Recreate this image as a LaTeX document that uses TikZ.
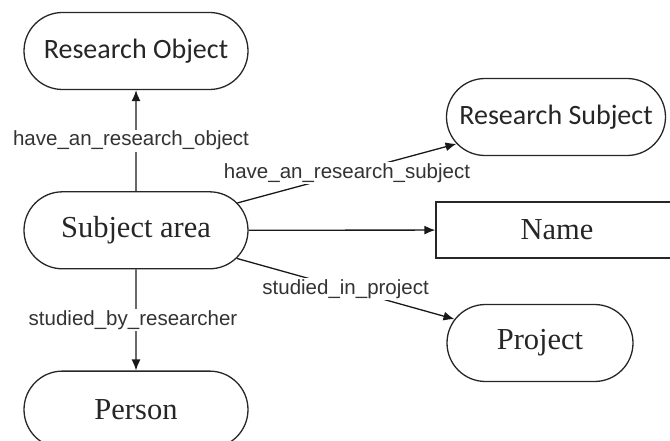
\documentclass[tikz,border=0pt]{standalone}
\usepackage{fontspec}
\setmainfont{Liberation Serif}
\newfontfamily\calibfont{Carlito}
\newfontfamily\arialfont{Liberation Sans}
\usetikzlibrary{arrows.meta,positioning,shapes.misc}

\begin{document}
\begin{tikzpicture}[
  x=1pt, y=-1pt, >={Latex[length=11pt,width=9pt]},
  term/.style={draw=black!85, rounded rectangle, line width=1.3pt,
    minimum width=228pt, minimum height=77pt, inner sep=2pt, text=black!85},
  attr/.style={draw=black!85, rectangle, line width=1.3pt,
    minimum width=242pt, minimum height=56pt, text=black!85},
  sans/.style={font=\calibfont\fontsize{28}{32}\selectfont},
  serif/.style={font=\fontsize{30.5}{34}\selectfont},
  rel/.style={fill=white, inner sep=1.5pt, text=black!80,
    font=\arialfont\fontsize{20.5}{24}\selectfont},
  link/.style={->, line width=1.3pt, draw=black!90}]
  \useasboundingbox (0,0) rectangle (670,441);
  % left column
  \node[term,sans] (obj) at (136,51) {Research Object};
  \node[term,serif,below=101pt of obj] (area) {Subject area};
  \node[term,serif,below=101pt of area] (person) {Person};
  % right column
  \node[term,sans,minimum width=223pt] (subj) at (556,117) {Research Subject};
  \node[attr,serif] (name) at (557,230) {Name};
  \node[term,serif,minimum width=190pt] (proj) at (540,343) {Project};
  % relations
  \draw[link] (area) -- node[rel,xshift=-5pt] {have\_an\_research\_object} (obj);
  \draw[link] (area) -- node[rel] {have\_an\_research\_subject} (subj);
  \draw[link] (area) -- (name);
  \draw[link] (area) -- node[rel] {studied\_in\_project} (proj);
  \draw[link] (area) -- node[rel,xshift=-3pt] {studied\_by\_researcher} (person);
\end{tikzpicture}
\end{document}
